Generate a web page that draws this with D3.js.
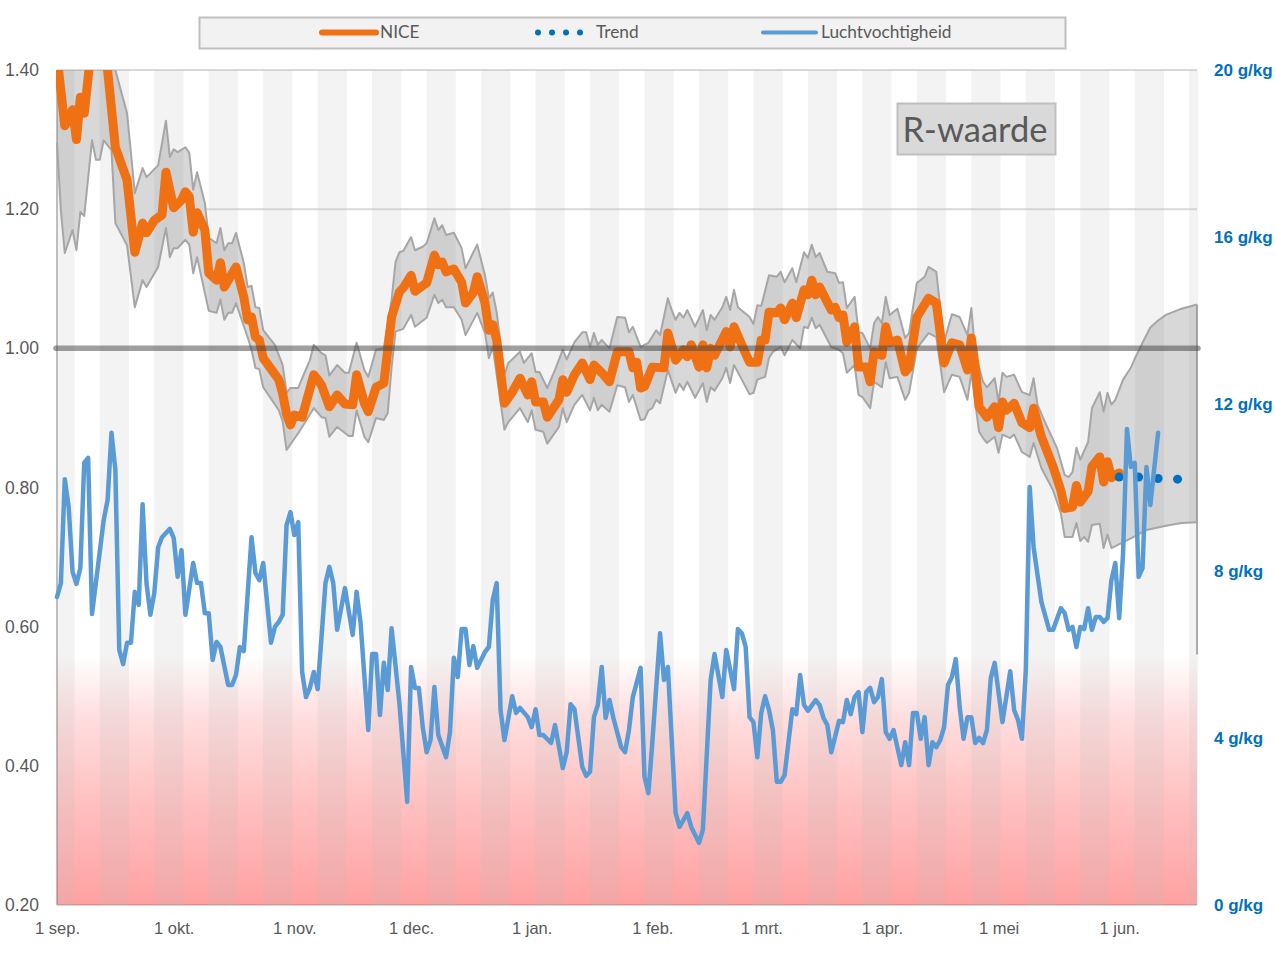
<!DOCTYPE html>
<html>
<head>
<meta charset="utf-8">
<script src="https://cdn.jsdelivr.net/npm/d3@7"></script>
<style>
    html, body { margin: 0; padding: 0; background: #fff; }
    svg { display: block; font-family: Lato, "Open Sans", sans-serif; }
</style>
</head>
<body>
<script>
// days after 1 sep, value
const nicePoints = [[0,1.42],[2,1.32],[4,1.343],[5,1.30],[6,1.361],[7,1.338],[9,1.44],[12,1.46],[13,1.40],[15,1.289],[18,1.242],[20,1.138],[22,1.18],[23,1.166],[25,1.184],[27,1.192],[28,1.253],[30,1.202],[32,1.213],[33,1.225],[34,1.218],[35,1.167],[36,1.195],[38,1.17],[39,1.108],[41,1.098],[42,1.123],[43,1.088],[46,1.117],[48,1.074],[49,1.041],[50,1.045],[51,1.016],[52,1.012],[53,.986],[57,.955],[58,.935],[59,.905],[60,.89],[61,.904],[63,.901],[66,.962],[67,.955],[68,.947],[70,.916],[72,.933],[74,.92],[76,.919],[77,.962],[79,.921],[80,.909],[82,.944],[84,.95],[86,1.045],[88,1.081],[89,1.087],[91,1.105],[92,1.082],[95,1.094],[97,1.134],[98,1.12],[99,1.124],[100,1.11],[102,1.114],[104,1.095],[105,1.065],[107,1.08],[108,1.103],[110,1.065],[111,1.026],[112,1.034],[113,1.012],[115,.921],[117,.937],[119,.957],[121,.933],[122,.952],[123,.923],[125,.923],[126,.901],[129,.926],[130,.955],[131,.937],[133,.962],[135,.979],[137,.955],[138,.976],[140,.965],[142,.952],[144,.995],[147,.995],[148,.972],[149,.98],[150,.943],[151,.945],[153,.973],[156,.972],[157,1.022],[159,.983],[161,.998],[162,.988],[163,1.005],[165,.973],[166,1.005],[167,.972],[168,1.0],[169,.99],[172,1.024],[173,1.002],[174,1.031],[176,1.005],[178,.98],[180,.98],[181,1.012],[182,1.012],[183,1.052],[185,1.051],[186,1.058],[187,1.041],[189,1.065],[190,1.044],[192,1.084],[193,1.077],[194,1.098],[195,1.077],[196,1.088],[199,1.055],[200,1.059],[201,1.044],[202,1.048],[203,1.009],[205,1.031],[206,.973],[208,.973],[209,.952],[210,.995],[212,.99],[213,1.031],[214,1.008],[216,1.012],[218,.966],[219,.973],[221,1.045],[224,1.072],[226,1.065],[228,.979],[230,1.008],[232,1.005],[234,.969],[235,1.015],[236,.973],[237,.916],[239,.901],[241,.916],[242,.886],[243,.923],[244,.911],[246,.921],[248,.893],[250,.886],[251,.914],[253,.873],[256,.83],[258,.796],[259,.77],[261,.772],[262,.803],[263,.779],[265,.794],[266,.83],[268,.844],[269,.808],[270,.837],[271,.814],[273,.821]];

const upperPoints = [[0,1.5],[13,1.5],[15,1.40],[18,1.338],[20,1.223],[22,1.259],[23,1.246],[26,1.263],[28,1.327],[29,1.275],[30,1.286],[31,1.282],[33,1.289],[34,1.281],[35,1.228],[36,1.253],[38,1.209],[39,1.159],[41,1.151],[42,1.173],[43,1.141],[44,1.151],[45,1.151],[46,1.166],[48,1.123],[49,1.088],[50,1.09],[51,1.059],[52,1.058],[53,1.026],[56,1.005],[58,.976],[59,.936],[60,.943],[62,.943],[63,.957],[65,.983],[66,1.005],[68,.993],[69,.99],[70,.961],[72,.976],[74,.965],[75,.965],[77,1.008],[79,.969],[80,.959],[82,.998],[84,1.0],[86,1.07],[87,1.124],[88,1.138],[89,1.14],[91,1.16],[92,1.141],[94,1.146],[95,1.151],[97,1.187],[98,1.17],[99,1.177],[100,1.163],[102,1.166],[104,1.144],[105,1.115],[107,1.138],[108,1.149],[110,1.105],[111,1.072],[112,1.08],[113,1.052],[115,.962],[116,.979],[119,.995],[120,.979],[122,.993],[123,.966],[124,.966],[126,.943],[128,.969],[130,.998],[131,.984],[133,1.009],[135,1.023],[136,1.023],[137,1.002],[138,1.022],[139,1.005],[140,1.012],[142,1.0],[144,1.045],[146,1.044],[147,1.023],[148,1.031],[150,1.002],[152,1.008],[154,1.026],[155,1.019],[157,1.072],[158,1.055],[159,1.041],[160,1.051],[161,1.044],[162,1.055],[164,1.031],[166,1.055],[167,1.026],[168,1.048],[169,1.041],[171,1.059],[172,1.074],[173,1.055],[174,1.084],[175,1.059],[178,1.045],[179,1.035],[180,1.062],[181,1.061],[183,1.105],[185,1.103],[186,1.11],[187,1.095],[189,1.115],[190,1.095],[192,1.138],[193,1.13],[194,1.149],[195,1.131],[196,1.137],[198,1.11],[200,1.108],[201,1.094],[202,1.095],[203,1.058],[205,1.074],[206,1.023],[207,1.022],[209,1.0],[210,1.036],[211,1.045],[212,1.036],[213,1.074],[214,1.048],[216,1.057],[218,1.015],[219,1.022],[221,1.094],[223,1.103],[224,1.117],[226,1.11],[228,1.009],[230,1.049],[232,1.045],[234,1.019],[235,1.058],[236,.993],[238,.952],[239,.944],[241,.957],[242,.923],[243,.965],[244,.959],[246,.962],[248,.937],[250,.933],[251,.957],[252,.919],[254,.893],[257,.857],[259,.818],[260,.815],[261,.822],[262,.857],[263,.84],[265,.865],[266,.914],[268,.937],[269,.909],[270,.936],[271,.919],[272,.926],[274,.955],[276,.972],[277,.985],[279,1.008],[281,1.03],[283,1.04],[285,1.048],[289,1.057],[293,1.063]];

const lowerPoints = [[0,1.295],[1,1.198],[2,1.137],[4,1.17],[5,1.141],[6,1.196],[7,1.19],[9,1.299],[10,1.271],[11,1.271],[12,1.299],[14,1.285],[15,1.18],[18,1.148],[20,1.059],[22,1.098],[23,1.088],[26,1.117],[28,1.173],[29,1.131],[30,1.144],[31,1.144],[33,1.156],[34,1.149],[35,1.108],[36,1.131],[39,1.054],[41,1.051],[42,1.07],[43,1.041],[44,1.051],[45,1.051],[46,1.065],[49,1.016],[50,.998],[51,.972],[52,.97],[53,.944],[57,.911],[58,.895],[59,.854],[62,.878],[63,.887],[66,.914],[68,.901],[69,.9],[70,.873],[72,.887],[75,.874],[76,.874],[77,.911],[79,.873],[80,.865],[82,.9],[84,.897],[85,.907],[86,.973],[87,1.024],[89,1.028],[91,1.048],[92,1.031],[95,1.044],[97,1.077],[98,1.065],[99,1.07],[100,1.059],[102,1.059],[104,1.041],[105,1.019],[108,1.051],[110,1.022],[111,.986],[112,1.002],[115,.883],[116,.894],[119,.914],[121,.894],[122,.911],[123,.883],[125,.88],[126,.863],[129,.887],[130,.914],[131,.894],[133,.919],[135,.933],[137,.911],[138,.929],[139,.911],[140,.919],[142,.909],[144,.947],[146,.944],[147,.923],[148,.933],[150,.897],[151,.898],[152,.911],[153,.914],[154,.926],[155,.921],[157,.969],[159,.936],[160,.949],[161,.94],[162,.952],[164,.929],[166,.95],[167,.923],[168,.944],[169,.939],[171,.957],[172,.972],[173,.95],[174,.976],[176,.955],[178,.934],[179,.936],[180,.955],[182,.959],[183,.986],[184,.995],[186,1.002],[187,.99],[189,1.012],[191,1.0],[192,1.031],[193,1.029],[194,1.044],[195,1.029],[196,1.034],[199,1.002],[201,.998],[202,.993],[203,.965],[205,.976],[206,.933],[207,.93],[209,.914],[210,.952],[212,.944],[213,.98],[214,.957],[216,.959],[218,.926],[219,.936],[221,1.0],[224,1.022],[226,1.016],[228,.937],[230,.962],[232,.959],[234,.926],[235,.965],[237,.88],[238,.871],[239,.864],[241,.873],[242,.85],[243,.876],[245,.871],[246,.876],[248,.851],[250,.844],[251,.864],[253,.828],[256,.796],[258,.763],[259,.729],[261,.729],[262,.749],[263,.723],[264,.729],[265,.722],[266,.746],[268,.748],[269,.713],[270,.732],[271,.713],[276,.727],[280,.739],[285,.745],[289,.749],[293,.75]];

const trendPoints = [[273,.815],[278,.815],[283,.813],[288,.812]];

const humidityPoints = [[0,7.38],[1,7.71],[2,10.2],[3,9.53],[4,7.98],[5,7.69],[6,8.07],[7,10.59],[8,10.71],[9,6.97],[12,9.22],[13,9.7],[14,11.31],[15,10.42],[16,6.11],[17,5.77],[18,6.28],[19,6.28],[20,7.5],[21,7.19],[22,9.6],[23,7.71],[24,6.95],[25,7.47],[26,8.57],[27,8.81],[29,9.01],[30,8.79],[31,7.86],[32,8.5],[33,6.95],[35,8.19],[36,7.71],[37,7.71],[38,6.99],[39,6.99],[40,5.87],[41,6.3],[42,6.18],[44,5.27],[45,5.27],[46,5.51],[47,6.18],[48,6.08],[50,8.81],[51,7.95],[52,7.78],[53,8.19],[55,6.28],[56,6.66],[57,6.78],[58,6.95],[59,9.1],[60,9.41],[61,8.86],[62,9.17],[63,5.58],[64,4.98],[65,5.2],[66,5.58],[67,5.17],[69,7.71],[70,8.1],[71,7.71],[72,6.59],[74,7.59],[76,6.47],[77,7.5],[78,6.78],[80,4.19],[81,6.01],[82,6.01],[83,4.55],[84,5.8],[85,5.15],[86,6.63],[88,4.84],[90,2.47],[91,5.7],[92,5.2],[93,5.2],[94,4.26],[95,3.66],[96,3.95],[97,5.22],[98,4.07],[100,3.54],[101,4.14],[102,5.92],[103,5.46],[104,6.61],[105,6.61],[106,5.75],[107,6.2],[108,5.68],[110,6.06],[111,6.18],[112,7.31],[113,7.71],[114,4.67],[115,3.95],[117,5.0],[118,4.6],[119,4.72],[121,4.5],[122,4.26],[123,4.69],[124,4.07],[125,4.07],[127,3.88],[128,4.31],[130,3.28],[131,3.66],[132,4.81],[133,4.69],[135,3.31],[136,3.09],[137,3.19],[138,4.5],[139,4.79],[140,5.7],[141,4.48],[142,4.91],[143,4.48],[145,3.78],[146,3.66],[147,4.19],[148,4.98],[150,5.68],[151,3.07],[152,2.68],[153,3.88],[155,6.51],[156,5.39],[157,5.7],[159,2.2],[160,1.87],[162,2.2],[163,1.87],[165,1.49],[166,1.8],[168,5.39],[169,6.01],[171,4.98],[172,6.11],[174,5.17],[175,6.61],[176,6.51],[177,6.18],[178,4.5],[179,4.38],[180,3.54],[181,4.6],[182,5.0],[183,4.67],[184,4.19],[185,2.95],[186,2.95],[187,3.11],[189,4.69],[190,4.57],[191,5.51],[192,4.79],[193,4.65],[195,4.91],[196,4.79],[197,4.48],[198,4.31],[199,3.66],[201,4.41],[202,4.38],[203,4.91],[204,4.57],[205,4.98],[206,5.1],[207,4.14],[208,5.1],[209,5.2],[210,4.86],[211,4.98],[212,5.41],[213,4.14],[214,3.98],[215,4.19],[217,3.35],[218,3.9],[219,3.35],[220,4.6],[221,4.6],[222,3.98],[223,4.5],[224,3.35],[225,3.9],[226,3.78],[227,3.95],[228,4.26],[229,5.27],[230,5.46],[231,5.89],[232,4.74],[233,3.98],[234,4.5],[235,4.5],[236,3.88],[237,4.0],[238,3.88],[239,4.19],[240,5.44],[241,5.8],[243,4.38],[245,5.6],[246,4.67],[247,4.43],[248,3.98],[249,5.63],[250,10.01],[251,8.57],[253,7.26],[255,6.59],[256,6.59],[258,7.11],[259,6.99],[260,6.59],[261,6.66],[262,6.18],[263,6.66],[264,6.61],[265,7.11],[266,6.59],[267,6.9],[268,6.9],[269,6.78],[270,6.87],[271,7.78],[272,8.19],[273,6.87],[274,8.43],[275,11.4],[276,10.49],[277,10.59],[278,7.86],[279,8.07],[280,10.49],[281,9.58],[283,11.31]];

const monthDays = [0, 30, 61, 91, 122, 153, 181, 212, 242, 273];
const monthLabels = ["1 sep.", "1 okt.", "1 nov.", "1 dec.", "1 jan.", "1 feb.", "1 mrt.", "1 apr.", "1 mei", "1 jun."];
const rTicks = [0.2, 0.4, 0.6, 0.8, 1.0, 1.2, 1.4];
const humidityTicks = [0, 4, 8, 12, 16, 20];
const gridValues = [1.4, 1.2];
const stripeStarts = [-3, 11, 25, 39, 53, 67, 81, 95, 109, 123, 137, 151, 165, 179, 193, 207, 221, 235, 249, 263, 277, 291];

const width = 1275;
const height = 956;
const plotLeft = 57, plotRight = 1197, plotTop = 70, plotBottom = 905;
const lastDay = 293;
const stripeDays = 7.5;

const orange = "#f07014";
const blue = "#5b9bd5";
const darkBlue = "#0070c0";
const grey = "#595959";

const xScale = d3.scaleLinear().domain([0, lastDay]).range([plotLeft, plotRight]);
const yScale = d3.scaleLinear().domain([0.2, 1.4]).range([plotBottom, plotTop]);
const y2Scale = d3.scaleLinear().domain([0, 20]).range([plotBottom, plotTop]);

const svg = d3.select("body").append("svg")
    .attr("width", width)
    .attr("height", height);

const defs = svg.append("defs");
defs.append("clipPath").attr("id", "plot")
    .append("rect").attr("x", plotLeft - 1).attr("y", plotTop).attr("width", plotRight - plotLeft + 2).attr("height", plotBottom - plotTop);

const redFade = defs.append("linearGradient").attr("id", "redFade")
    .attr("x1", 0).attr("y1", 0).attr("x2", 0).attr("y2", 1);
[[0, 0], [0.25, 0.13], [0.6, 0.25], [1, 0.37]].forEach(([o, a]) => {
    redFade.append("stop").attr("offset", o).attr("stop-color", "#ff0000").attr("stop-opacity", a);
});

// gridlines and frame
svg.selectAll(".grid").data(gridValues).enter().append("line")
    .attr("class", "grid")
    .attr("x1", (d) => d === 1.2 ? xScale(38) : plotLeft)
    .attr("x2", plotRight)
    .attr("y1", (d) => yScale(d))
    .attr("y2", (d) => yScale(d))
    .attr("stroke", "#d9d9d9")
    .attr("stroke-width", 2);

svg.append("line").attr("x1", plotLeft).attr("x2", plotLeft).attr("y1", plotTop).attr("y2", plotBottom)
    .attr("stroke", "#bfbfbf").attr("stroke-width", 2);
svg.append("line").attr("x1", plotRight).attr("x2", plotRight).attr("y1", yScale(1.063)).attr("y2", yScale(0.56))
    .attr("stroke", "#a6a6a6").attr("stroke-width", 2);
svg.append("line").attr("x1", plotLeft).attr("x2", plotRight).attr("y1", plotBottom).attr("y2", plotBottom)
    .attr("stroke", "#d9d9d9").attr("stroke-width", 2);

// red zone
svg.append("rect")
    .attr("x", plotLeft)
    .attr("y", yScale(0.56))
    .attr("width", plotRight - plotLeft)
    .attr("height", plotBottom - yScale(0.56))
    .attr("fill", "url(#redFade)");

// stripes, see-through so they also show on the red zone
svg.append("g").attr("clip-path", "url(#plot)")
    .selectAll("rect").data(stripeStarts).enter().append("rect")
    .attr("x", (d) => xScale(d))
    .attr("y", plotTop)
    .attr("width", (d) => xScale(d + stripeDays) - xScale(d))
    .attr("height", plotBottom - plotTop)
    .attr("fill", "#bfbfbf")
    .attr("fill-opacity", 0.18);

const line = d3.line()
    .x((d) => xScale(d[0]))
    .y((d) => yScale(d[1]));

const chart = svg.append("g").attr("clip-path", "url(#plot)");

// confidence band
chart.append("path")
    .attr("d", line(upperPoints.concat(lowerPoints.slice().reverse())) + "Z")
    .attr("fill", "#7f7f7f")
    .attr("fill-opacity", 0.3);

[upperPoints, lowerPoints].forEach((pts) => {
    chart.append("path")
        .attr("d", line(pts))
        .attr("fill", "none")
        .attr("stroke", "#a6a6a6")
        .attr("stroke-width", 2)
        .attr("stroke-linejoin", "round");
});

// NICE
chart.append("path")
    .attr("d", line(nicePoints))
    .attr("fill", "none")
    .attr("stroke", orange)
    .attr("stroke-width", 9)
    .attr("stroke-linejoin", "round")
    .attr("stroke-linecap", "round");

// R = 1
svg.append("line")
    .attr("x1", plotLeft - 1).attr("x2", plotRight + 1)
    .attr("y1", yScale(1)).attr("y2", yScale(1))
    .attr("stroke", "#404040")
    .attr("stroke-opacity", 0.5)
    .attr("stroke-width", 5.5)
    .attr("stroke-linecap", "round");

// trend
svg.selectAll(".trend").data(trendPoints).enter().append("circle")
    .attr("class", "trend")
    .attr("cx", (d) => xScale(d[0]))
    .attr("cy", (d) => yScale(d[1]))
    .attr("r", 4.5)
    .attr("fill", darkBlue);

// humidity
const humidityLine = d3.line()
    .x((d) => xScale(d[0]))
    .y((d) => y2Scale(d[1]));

svg.append("path")
    .attr("d", humidityLine(humidityPoints))
    .attr("fill", "none")
    .attr("stroke", blue)
    .attr("stroke-width", 4.5)
    .attr("stroke-linejoin", "round")
    .attr("stroke-linecap", "round");

// axes
const yAxis = d3.axisLeft(yScale).tickValues(rTicks).tickFormat(d3.format(".2f")).tickSize(0).tickPadding(18);
const y2Axis = d3.axisRight(y2Scale).tickValues(humidityTicks).tickFormat((d) => `${d} g/kg`).tickSize(0).tickPadding(17);
const xAxis = d3.axisBottom(xScale).tickValues(monthDays).tickFormat((d, i) => monthLabels[i]).tickSize(0).tickPadding(17);

const yAxisG = svg.append("g").attr("transform", `translate(${plotLeft},0)`).call(yAxis);
const y2AxisG = svg.append("g").attr("transform", `translate(${plotRight},0)`).call(y2Axis);
const xAxisG = svg.append("g").attr("transform", `translate(0,${plotBottom})`).call(xAxis);

[yAxisG, y2AxisG, xAxisG].forEach((g) => g.select(".domain").remove());
yAxisG.selectAll("text").style("font-size", "17.5px").attr("fill", grey);
xAxisG.selectAll("text").style("font-size", "16.5px").attr("fill", grey);
y2AxisG.selectAll("text").style("font-size", "17px").style("font-weight", "bold").attr("fill", darkBlue);

// legend
const legend = svg.append("g").attr("id", "legend");
legend.append("rect").attr("x", 199.5).attr("y", 17.5).attr("width", 866).attr("height", 31)
    .attr("fill", "#f2f2f2").attr("stroke", "#bfbfbf").attr("stroke-width", 2);
legend.append("line").attr("x1", 322).attr("x2", 376).attr("y1", 32.5).attr("y2", 32.5)
    .attr("stroke", orange).attr("stroke-width", 6).attr("stroke-linecap", "round");
legend.selectAll(".legend-dot").data([538, 552, 566, 580]).enter().append("circle")
    .attr("class", "legend-dot").attr("cx", (d) => d).attr("cy", 32.5).attr("r", 3).attr("fill", darkBlue);
legend.append("line").attr("x1", 763).attr("x2", 816).attr("y1", 32.5).attr("y2", 32.5)
    .attr("stroke", blue).attr("stroke-width", 4).attr("stroke-linecap", "round");
legend.selectAll("text").data([[380, "NICE"], [596, "Trend"], [821, "Luchtvochtigheid"]]).enter().append("text")
    .attr("x", (d) => d[0]).attr("y", 38)
    .style("font-size", "17.3px").attr("fill", grey)
    .text((d) => d[1]);

// title box
svg.append("rect").attr("x", 897.5).attr("y", 103.5).attr("width", 158).attr("height", 51)
    .attr("fill", "#d9d9d9").attr("stroke", "#bfbfbf").attr("stroke-width", 2);
svg.append("text").attr("x", 975).attr("y", 142).attr("text-anchor", "middle")
    .style("font-size", "34.5px").attr("fill", grey)
    .text("R-waarde");
</script>
</body>
</html>
